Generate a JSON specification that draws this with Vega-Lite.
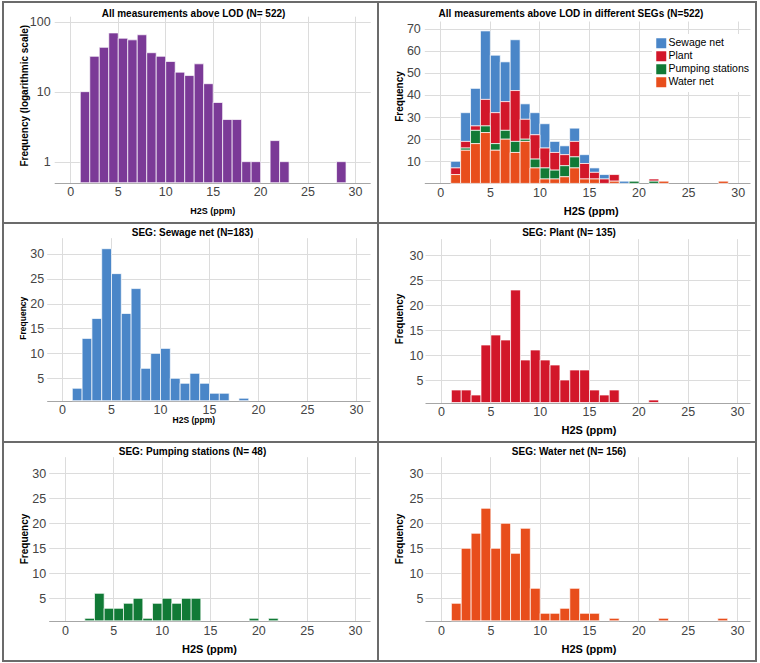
{
  "$schema": "https://vega.github.io/schema/vega-lite/v6.json",
  "padding": {"left": 2, "top": 1, "right": 0, "bottom": 0},
  "bounds": "flush",
  "spacing": 0,
  "columns": 2,
  "datasets": {
    "h2s": [
      {"seg": "Sewage net", "bin": 1, "n": 3}, {"seg": "Sewage net", "bin": 2, "n": 13}, {"seg": "Sewage net", "bin": 3, "n": 17},
      {"seg": "Sewage net", "bin": 4, "n": 31}, {"seg": "Sewage net", "bin": 5, "n": 26}, {"seg": "Sewage net", "bin": 6, "n": 18},
      {"seg": "Sewage net", "bin": 7, "n": 23}, {"seg": "Sewage net", "bin": 8, "n": 7}, {"seg": "Sewage net", "bin": 9, "n": 10},
      {"seg": "Sewage net", "bin": 10, "n": 11}, {"seg": "Sewage net", "bin": 11, "n": 5}, {"seg": "Sewage net", "bin": 12, "n": 4},
      {"seg": "Sewage net", "bin": 13, "n": 6}, {"seg": "Sewage net", "bin": 14, "n": 4}, {"seg": "Sewage net", "bin": 15, "n": 2},
      {"seg": "Sewage net", "bin": 16, "n": 2}, {"seg": "Sewage net", "bin": 18, "n": 1},
      {"seg": "Plant", "bin": 1, "n": 3}, {"seg": "Plant", "bin": 2, "n": 3}, {"seg": "Plant", "bin": 3, "n": 2},
      {"seg": "Plant", "bin": 4, "n": 12}, {"seg": "Plant", "bin": 5, "n": 14}, {"seg": "Plant", "bin": 6, "n": 13},
      {"seg": "Plant", "bin": 7, "n": 23}, {"seg": "Plant", "bin": 8, "n": 9}, {"seg": "Plant", "bin": 9, "n": 11},
      {"seg": "Plant", "bin": 10, "n": 9}, {"seg": "Plant", "bin": 11, "n": 8}, {"seg": "Plant", "bin": 12, "n": 5},
      {"seg": "Plant", "bin": 13, "n": 7}, {"seg": "Plant", "bin": 14, "n": 7}, {"seg": "Plant", "bin": 15, "n": 3},
      {"seg": "Plant", "bin": 16, "n": 2}, {"seg": "Plant", "bin": 17, "n": 3}, {"seg": "Plant", "bin": 21, "n": 1},
      {"seg": "Pumping stations", "bin": 2, "n": 1}, {"seg": "Pumping stations", "bin": 3, "n": 6}, {"seg": "Pumping stations", "bin": 4, "n": 3},
      {"seg": "Pumping stations", "bin": 5, "n": 3}, {"seg": "Pumping stations", "bin": 6, "n": 4}, {"seg": "Pumping stations", "bin": 7, "n": 5},
      {"seg": "Pumping stations", "bin": 8, "n": 1}, {"seg": "Pumping stations", "bin": 9, "n": 4}, {"seg": "Pumping stations", "bin": 10, "n": 5},
      {"seg": "Pumping stations", "bin": 11, "n": 4}, {"seg": "Pumping stations", "bin": 12, "n": 5}, {"seg": "Pumping stations", "bin": 13, "n": 5},
      {"seg": "Pumping stations", "bin": 19, "n": 1}, {"seg": "Pumping stations", "bin": 21, "n": 1},
      {"seg": "Water net", "bin": 1, "n": 4}, {"seg": "Water net", "bin": 2, "n": 15}, {"seg": "Water net", "bin": 3, "n": 18},
      {"seg": "Water net", "bin": 4, "n": 23}, {"seg": "Water net", "bin": 5, "n": 15}, {"seg": "Water net", "bin": 6, "n": 20},
      {"seg": "Water net", "bin": 7, "n": 14}, {"seg": "Water net", "bin": 8, "n": 19}, {"seg": "Water net", "bin": 9, "n": 7},
      {"seg": "Water net", "bin": 10, "n": 2}, {"seg": "Water net", "bin": 11, "n": 2}, {"seg": "Water net", "bin": 12, "n": 3},
      {"seg": "Water net", "bin": 13, "n": 7}, {"seg": "Water net", "bin": 14, "n": 2}, {"seg": "Water net", "bin": 15, "n": 2},
      {"seg": "Water net", "bin": 17, "n": 1}, {"seg": "Water net", "bin": 22, "n": 1}, {"seg": "Water net", "bin": 28, "n": 1}
    ]
  },
  "data": {"name": "h2s"},
  "concat": [
    {
      "width": 375,
      "height": 221,
      "title": {"text": "All measurements above LOD (N= 522)", "offset": -21.5, "baseline": "middle", "dx": 3},
      "transform": [{"aggregate": [{"op": "sum", "field": "n", "as": "total"}], "groupby": ["bin"]}],
      "mark": {"type": "bar", "color": "#7b3a97", "stroke": "#ffffff", "strokeWidth": 0.7, "binSpacing": 0},
      "encoding": {
        "x": {
          "field": "bin", "type": "quantitative", "bin": {"binned": true, "step": 1},
          "scale": {"domain": [-7.09, 32.42]},
          "axis": {"values": [0, 5, 10, 15, 20, 25, 30], "offset": -40.2, "tickSize": -166.6, "labelPadding": 169.6,
                   "title": "H2S (ppm)", "titleFontSize": 9, "titleX": 209.3, "titleY": 27.5}
        },
        "y": {
          "field": "total", "type": "quantitative",
          "scale": {"type": "log", "domain": [0.133, 191]},
          "axis": {"values": [0.5, 1, 10, 100], "format": "d", "offset": -51.2, "tickSize": -316, "labelPadding": 320,
                   "title": "Frequency (logarithmic scale)", "titleX": -30, "titleY": 93.2}
        },
        "y2": {"datum": 0.5}
      }
    },
    {
      "width": 378,
      "height": 221,
      "title": {"text": "All measurements above LOD in different SEGs (N=522)", "offset": -21.5, "baseline": "middle", "dx": 4},
      "transform": [
        {"lookup": "seg", "from": {"data": {"values": [
          {"seg": "Water net", "ord": 1}, {"seg": "Pumping stations", "ord": 2},
          {"seg": "Plant", "ord": 3}, {"seg": "Sewage net", "ord": 4}]}, "key": "seg", "fields": ["ord"]}}
      ],
      "mark": {"type": "bar", "stroke": "#ffffff", "strokeWidth": 0.7, "binSpacing": 0},
      "encoding": {
        "x": {
          "field": "bin", "type": "quantitative", "bin": {"binned": true, "step": 1},
          "scale": {"domain": [-6.285, 31.85]},
          "axis": {"values": [0, 5, 10, 15, 20, 25, 30], "offset": -39.6, "tickSize": -162.4, "labelPadding": 165.4,
                   "title": "H2S (ppm)", "titleFontSize": 11, "titleX": 212.7, "titleY": 28.3}
        },
        "y": {
          "field": "n", "type": "quantitative", "stack": "zero",
          "scale": {"domain": [-17.92, 82.08]},
          "axis": {"values": [0, 10, 20, 30, 40, 50, 60, 70], "offset": -46.3, "tickSize": -325.7, "labelPadding": 329.7,
                   "title": "Frequency", "titleX": -25.3, "titleY": 94}
        },
        "color": {
          "field": "seg", "type": "nominal",
          "scale": {"domain": ["Sewage net", "Plant", "Pumping stations", "Water net"],
                    "range": ["#4a86c8", "#d2172a", "#117a36", "#e84e1c"]},
          "legend": {"orient": "none", "legendX": 649, "legendY": 32, "title": null, "symbolType": "square",
                     "symbolSize": 100, "symbolStrokeWidth": 0, "symbolOpacity": 1, "labelFontSize": 10.5,
                     "labelColor": "#000000", "labelOffset": 2, "rowPadding": 2, "padding": 4, "fillColor": "#ffffff"}
        },
        "order": {"field": "ord", "type": "quantitative", "sort": "ascending"}
      }
    },
    {
      "width": 375,
      "height": 219,
      "title": {"text": "SEG: Sewage net (N=183)", "offset": -19.5, "baseline": "middle", "dx": 2},
      "transform": [{"filter": "datum.seg == 'Sewage net'"}],
      "mark": {"type": "bar", "color": "#4a86c8", "stroke": "#ffffff", "strokeWidth": 0.7, "binSpacing": 0},
      "encoding": {
        "x": {
          "field": "bin", "type": "quantitative", "bin": {"binned": true, "step": 1},
          "scale": {"domain": [-6.02, 32.24]},
          "axis": {"values": [0, 5, 10, 15, 20, 25, 30], "offset": -41.3, "tickSize": -163, "labelPadding": 165.3,
                   "title": "H2S (ppm)", "titleFontSize": 8.5, "titleX": 190.3, "titleY": 19}
        },
        "y": {
          "field": "n", "type": "quantitative",
          "scale": {"domain": [-7.78, 36.16]},
          "axis": {"values": [0.5, 5, 10, 15, 20, 25, 30], "offset": -43.7, "tickSize": -323.3, "labelPadding": 326.3,
                   "title": "Frequency", "titleFontSize": 8.5, "titleX": -24, "titleY": 94.7}
        },
        "y2": {"datum": 0.5}
      }
    },
    {
      "width": 378,
      "height": 219,
      "title": {"text": "SEG: Plant (N= 135)", "offset": -19.5, "baseline": "middle", "dx": 2},
      "transform": [{"filter": "datum.seg == 'Plant'"}],
      "mark": {"type": "bar", "color": "#d2172a", "stroke": "#ffffff", "strokeWidth": 0.7, "binSpacing": 0},
      "encoding": {
        "x": {
          "field": "bin", "type": "quantitative", "bin": {"binned": true, "step": 1},
          "scale": {"domain": [-6.385, 31.92]},
          "axis": {"values": [0, 5, 10, 15, 20, 25, 30], "offset": -39.5, "tickSize": -163.8, "labelPadding": 167,
                   "title": "H2S (ppm)", "titleFontSize": 11, "titleX": 210.5, "titleY": 27.8}
        },
        "y": {
          "field": "n", "type": "quantitative",
          "scale": {"domain": [-7.4, 36.4]},
          "axis": {"values": [0.5, 5, 10, 15, 20, 25, 30], "offset": -47, "tickSize": -325, "labelPadding": 327,
                   "title": "Frequency", "titleX": -25.7, "titleY": 95.5}
        },
        "y2": {"datum": 0.5}
      }
    },
    {
      "width": 375,
      "height": 219,
      "title": {"text": "SEG: Pumping stations (N= 48)", "offset": -19.8, "baseline": "middle", "dx": 2},
      "transform": [{"filter": "datum.seg == 'Pumping stations'"}],
      "mark": {"type": "bar", "color": "#117a36", "stroke": "#ffffff", "strokeWidth": 0.7, "binSpacing": 0},
      "encoding": {
        "x": {
          "field": "bin", "type": "quantitative", "bin": {"binned": true, "step": 1},
          "scale": {"domain": [-6.414, 32.38]},
          "axis": {"values": [0, 5, 10, 15, 20, 25, 30], "offset": -40.2, "tickSize": -164.1, "labelPadding": 167.8,
                   "title": "H2S (ppm)", "titleFontSize": 11, "titleX": 206, "titleY": 28.5}
        },
        "y": {
          "field": "n", "type": "quantitative",
          "scale": {"domain": [-7.54, 36.26]},
          "axis": {"values": [0.5, 5, 10, 15, 20, 25, 30], "offset": -45.7, "tickSize": -321.3, "labelPadding": 324.3,
                   "title": "Frequency", "titleX": -24.4, "titleY": 96.5}
        },
        "y2": {"datum": 0.5}
      }
    },
    {
      "width": 378,
      "height": 219,
      "title": {"text": "SEG: Water net (N= 156)", "offset": -19.8, "baseline": "middle", "dx": 2},
      "transform": [{"filter": "datum.seg == 'Water net'"}],
      "mark": {"type": "bar", "color": "#e84e1c", "stroke": "#ffffff", "strokeWidth": 0.7, "binSpacing": 0},
      "encoding": {
        "x": {
          "field": "bin", "type": "quantitative", "bin": {"binned": true, "step": 1},
          "scale": {"domain": [-6.385, 31.92]},
          "axis": {"values": [0, 5, 10, 15, 20, 25, 30], "offset": -40.2, "tickSize": -164.1, "labelPadding": 167.8,
                   "title": "H2S (ppm)", "titleFontSize": 11, "titleX": 210.5, "titleY": 28.5}
        },
        "y": {
          "field": "n", "type": "quantitative",
          "scale": {"domain": [-7.54, 36.26]},
          "axis": {"values": [0.5, 5, 10, 15, 20, 25, 30], "offset": -47, "tickSize": -325, "labelPadding": 327,
                   "title": "Frequency", "titleX": -25.7, "titleY": 96.5}
        },
        "y2": {"datum": 0.5}
      }
    }
  ],
  "config": {
    "font": "Liberation Sans",
    "view": {"stroke": "#6b6b6b", "strokeWidth": 2},
    "concat": {"spacing": 0},
    "title": {"fontSize": 10, "fontWeight": "bold", "color": "#000000", "anchor": "middle", "frame": "group"},
    "axis": {
      "domain": false,
      "grid": false,
      "ticks": true,
      "tickWidth": 1,
      "tickColor": "#dcdcdc",
      "labelFontSize": 12.5,
      "labelColor": "#444444",
      "labelFlush": false,
      "labelOverlap": false,
      "titleFontSize": 10,
      "titleFontWeight": "bold",
      "titleColor": "#000000",
      "titleBaseline": "middle",
      "titlePadding": 0
    },
    "axisY": {
      "titleAngle": -90,
      "tickColor": {"condition": {"test": "datum.value < 0.9", "value": "#a6a6a6"}, "value": "#dcdcdc"},
      "labelExpr": "datum.value < 0.9 ? '' : datum.label"
    }
  }
}
